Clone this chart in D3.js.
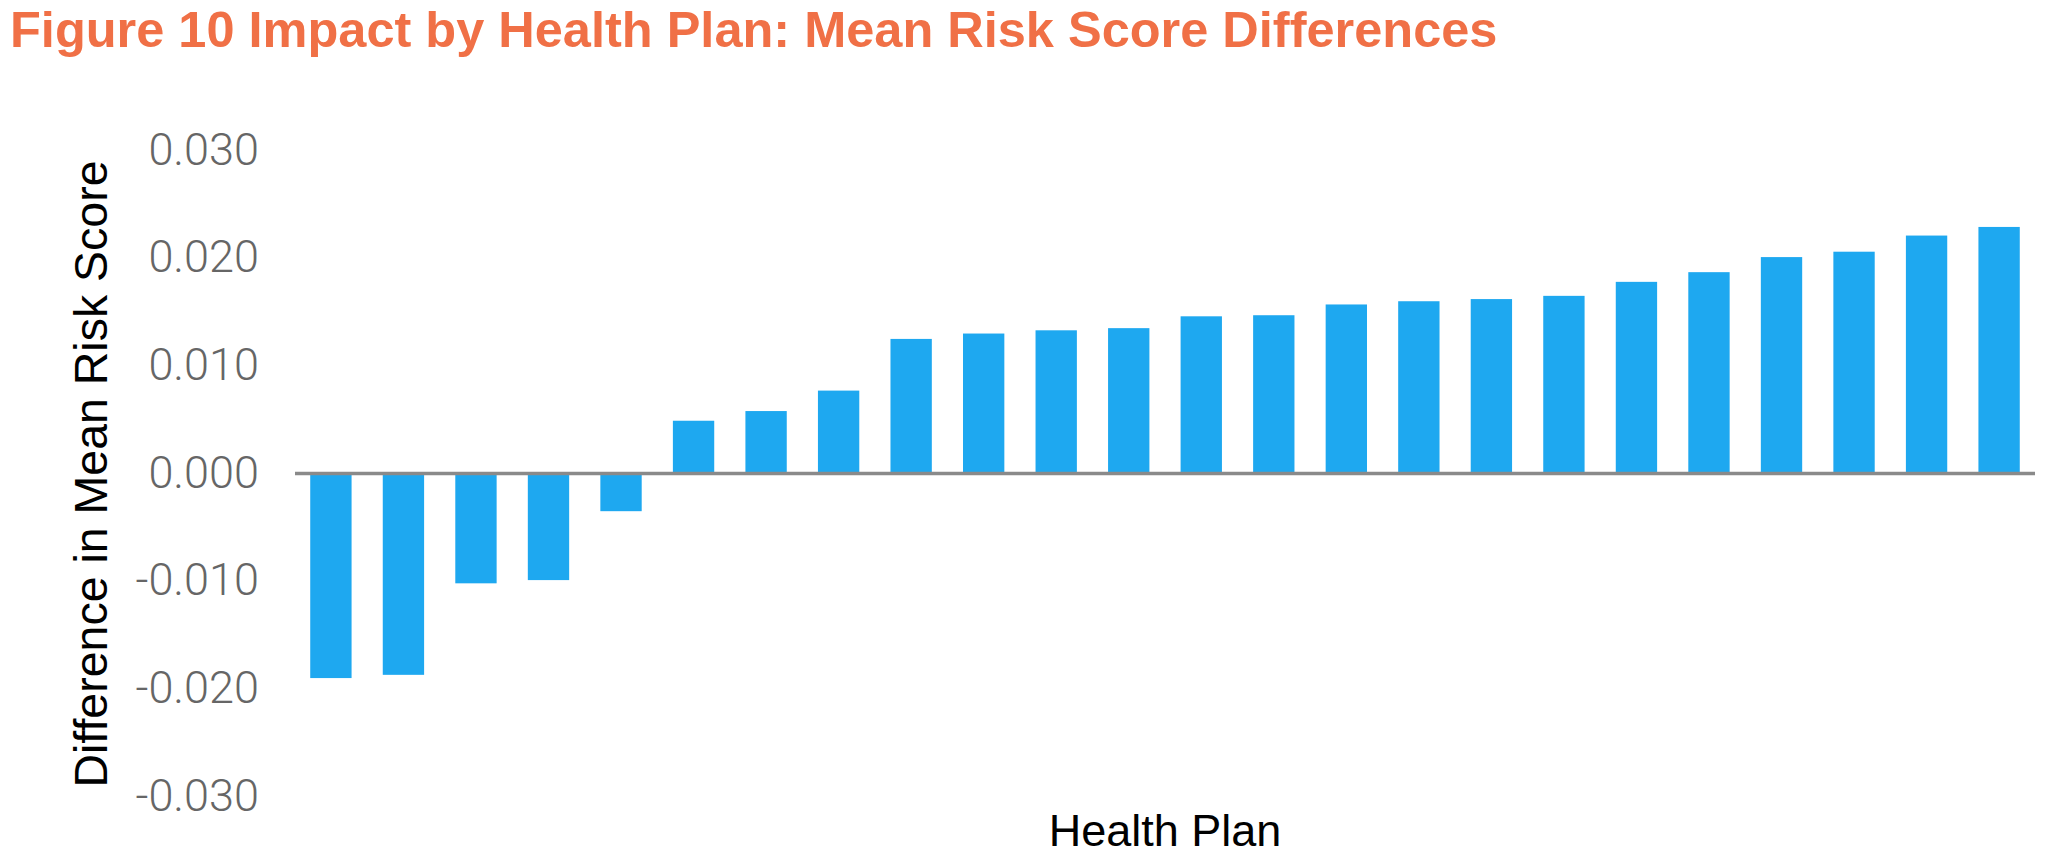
<!DOCTYPE html>
<html>
<head>
<meta charset="utf-8">
<script src="https://cdn.jsdelivr.net/npm/d3@7"></script>
<style>
  html, body { margin: 0; padding: 0; background: #ffffff; }
  svg { display: block; }
</style>
</head>
<body>
<svg id="chart" width="2058" height="865"></svg>
<script>
// ---- data ----
const titleText = "Figure 10 Impact by Health Plan: Mean Risk Score Differences";
const yAxisTitle = "Difference in Mean Risk Score";
const xAxisTitle = "Health Plan";
const categories = ["P1","P2","P3","P4","P5","P6","P7","P8","P9","P10","P11","P12",
                    "P13","P14","P15","P16","P17","P18","P19","P20","P21","P22","P23","P24"];
const values = [-0.0190, -0.0187, -0.0102, -0.0099, -0.0035, 0.0049, 0.0058, 0.0077,
                0.0125, 0.0130, 0.0133, 0.0135, 0.0146, 0.0147, 0.0157, 0.0160,
                0.0162, 0.0165, 0.0178, 0.0187, 0.0201, 0.0206, 0.0221, 0.0229];
const yTicks = [0.03, 0.02, 0.01, 0, -0.01, -0.02, -0.03];
const yTickLabels = ["0.030", "0.020", "0.010", "0.000", "-0.010", "-0.020", "-0.030"];

// ---- drawing ----
const svg = d3.select("#chart");
svg.append("rect").attr("width", 2058).attr("height", 865).attr("fill", "#ffffff");

const x = d3.scaleBand().domain(categories).range([295, 2035])
  .paddingInner(0.43).paddingOuter(0.21);
const y = d3.scaleLinear().domain([-0.03, 0.03]).range([796.5, 150.5]);

// title
svg.append("text")
  .attr("x", 10).attr("y", 47)
  .attr("font-family", "'Liberation Sans', Arial, sans-serif")
  .attr("font-weight", "bold")
  .attr("font-size", 50.5)
  .attr("fill", "#F07046")
  .text(titleText);

// y axis
const yAxis = d3.axisLeft(y)
  .tickValues(yTicks)
  .tickSize(0)
  .tickPadding(0)
  .tickFormat((d, i) => yTickLabels[i]);
const gy = svg.append("g").attr("transform", "translate(259,0)").call(yAxis);
gy.select(".domain").remove();
gy.selectAll("text")
  .attr("dy", "0.3em")
  .attr("font-family", "Roboto, 'Liberation Sans', sans-serif")
  .attr("font-weight", 300)
  .attr("font-size", 45)
  .attr("fill", "#666666");

// bars
svg.append("g").selectAll("rect")
  .data(values)
  .join("rect")
  .attr("x", (d, i) => x(categories[i]))
  .attr("width", x.bandwidth())
  .attr("y", d => Math.min(y(d), y(0)))
  .attr("height", d => Math.abs(y(d) - y(0)))
  .attr("fill", "#1EA8F0");

// zero line
svg.append("line")
  .attr("x1", 295).attr("x2", 2035)
  .attr("y1", y(0)).attr("y2", y(0))
  .attr("stroke", "#8a8a8a")
  .attr("stroke-width", 3.5);

// axis titles
svg.append("text")
  .attr("transform", "translate(107,474) rotate(-90)")
  .attr("text-anchor", "middle")
  .attr("font-family", "'Liberation Sans', Arial, sans-serif")
  .attr("font-size", 46.5)
  .attr("fill", "#000000")
  .text(yAxisTitle);

svg.append("text")
  .attr("x", 1165).attr("y", 846)
  .attr("text-anchor", "middle")
  .attr("font-family", "'Liberation Sans', Arial, sans-serif")
  .attr("font-size", 45)
  .attr("fill", "#000000")
  .text(xAxisTitle);
</script>
</body>
</html>
